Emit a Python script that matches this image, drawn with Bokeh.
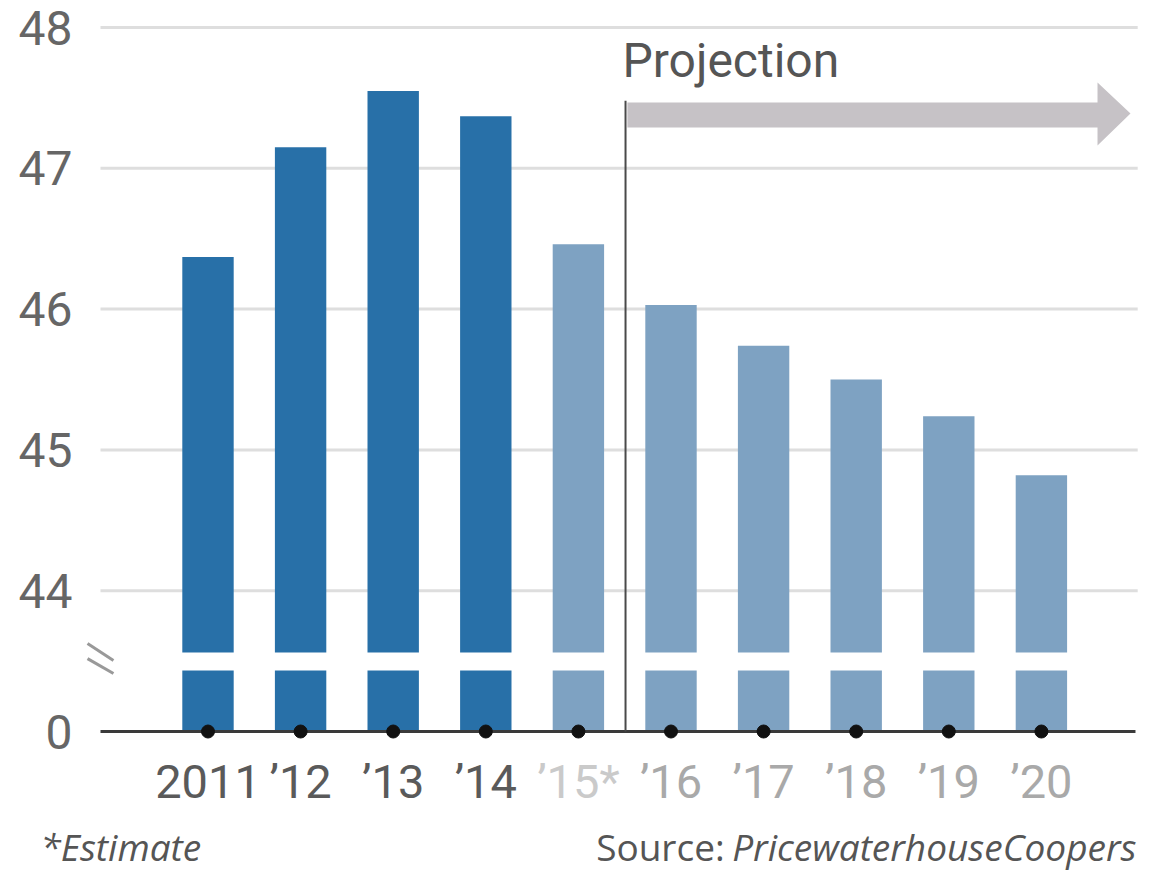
from bokeh.plotting import figure
from bokeh.models import Range1d, ColumnDataSource
from bokeh.core.properties import value
from bokeh.embed import file_html
from bokeh.resources import INLINE

# ---- data ----
years = ["2011", "’12", "’13", "’14", "’15*", "’16", "’17", "’18", "’19", "’20"]
values = [46.37, 47.15, 47.55, 47.37, 46.46, 46.03, 45.74, 45.50, 45.24, 44.82]
kinds = ["actual", "actual", "actual", "actual", "estimate",
         "projection", "projection", "projection", "projection", "projection"]
y_ticks = [44, 45, 46, 47, 48]
y_tick_labels = ["44", "45", "46", "47", "48"]
zero_label = "0"

# broken axis: real 0 is drawn at display level BASE
BASE = 43.0
BREAK_LO, BREAK_HI = 43.433, 43.561

bar_colors = {"actual": "#2870a8", "estimate": "#7ea2c2", "projection": "#7ea2c2"}
label_colors = {"actual": "#5a5a5a", "estimate": "#cacaca", "projection": "#a9a9a9"}

TICKFONT = value("Roboto")

xs = list(range(len(years)))
src = ColumnDataSource(dict(
    x=xs, top=values, base=[BASE] * len(xs),
    fill=[bar_colors[k] for k in kinds],
    lab=years, labcol=[label_colors[k] for k in kinds],
    laby=[42.645] * len(xs),
))

p = figure(width=1139, height=878, output_backend="svg", toolbar_location=None,
           x_range=Range1d(-2.2408, 10.0594), y_range=Range1d(41.956, 48.192),
           min_border=0, outline_line_color=None)
p.axis.visible = False
p.grid.visible = False
p.background_fill_color = "white"
p.border_fill_color = "white"

GRID_X0, GRID_X1 = -1.161, 10.04
# gridlines
p.segment(x0=[GRID_X0] * len(y_ticks), x1=[GRID_X1] * len(y_ticks), y0=y_ticks, y1=y_ticks,
          line_color="#dedede", line_width=3)

# bars
p.vbar(x="x", top="top", bottom="base", width=0.555, fill_color="fill", line_color=None, source=src)
# axis break band
p.quad(left=[-0.6], right=[9.7], bottom=[BREAK_LO], top=[BREAK_HI], fill_color="white", line_color=None)

# baseline
p.segment(x0=[GRID_X0], x1=[10.016], y0=[BASE], y1=[BASE], line_color="#3a3a3a", line_width=3)
# dots
p.scatter(x="x", y="base", size=13, color="#111111", source=src)

# projection divider and arrow
DIV_X = 4.509
p.segment(x0=[DIV_X], x1=[DIV_X], y0=[BASE], y1=[47.48], line_color="#4a4a4a", line_width=2)
ax = [DIV_X + 0.02, 9.606, 9.606, 9.962, 9.606, 9.606, DIV_X + 0.02]
ay = [47.467, 47.467, 47.609, 47.389, 47.162, 47.290, 47.290]
p.patch(ax, ay, fill_color="#c6c2c6", line_color=None)
p.text(x=[4.476], y=[47.766], text=["Projection"], text_font=value("Roboto"),
       text_font_size="48px", text_color="#555555", text_align="left", text_baseline="middle")

# break marks
p.segment(x0=[-1.301, -1.301], x1=[-1.021, -1.021], y0=[43.625, 43.518], y1=[43.504, 43.412],
          line_color="#999999", line_width=3)

# y tick labels
p.text(x=[-1.463] * (len(y_ticks) + 1), y=[BASE] + y_ticks, text=[zero_label] + y_tick_labels,
       text_font=TICKFONT, text_font_size="48px", text_color="#666666",
       text_align="right", text_baseline="middle")

# x labels
p.text(x="x", y="laby", text="lab", text_color="labcol", source=src,
       text_font=TICKFONT, text_font_size="47px", text_align="center", text_baseline="middle")

# footnotes
FOOT_Y = 42.183
p.text(x=[-1.809], y=[FOOT_Y], text=["*Estimate"], text_font=value("Open Sans"),
       text_font_size="37px", text_font_style="italic", text_color="#555555",
       text_align="left", text_baseline="middle")
p.text(x=[10.027], y=[FOOT_Y], text=["PricewaterhouseCoopers"], text_font=value("Open Sans"),
       text_font_size="37px", text_font_style="italic", text_color="#555555",
       text_align="right", text_baseline="middle")
p.text(x=[5.58], y=[FOOT_Y], text=["Source:"], text_font=value("Open Sans"),
       text_font_size="37px", text_color="#555555",
       text_align="right", text_baseline="middle")

open("out.html", "w").write(file_html(p, INLINE))
